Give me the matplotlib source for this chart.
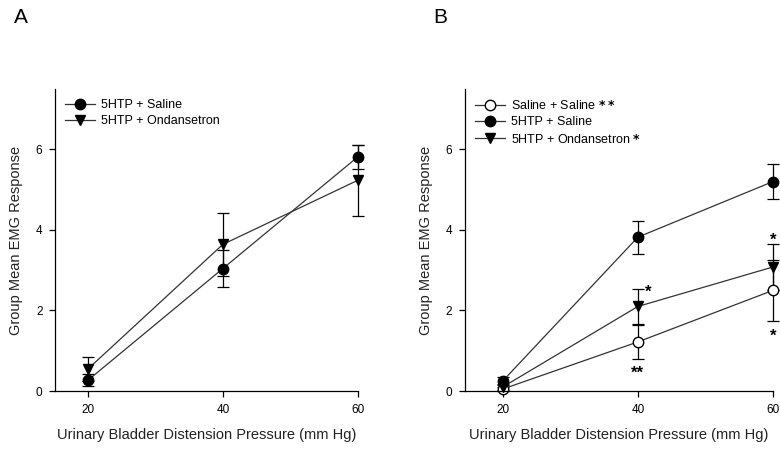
import matplotlib
matplotlib.use("Agg")
import matplotlib.pyplot as plt
from matplotlib.lines import Line2D

plt.rcParams['font.family'] = ['Liberation Sans', 'DejaVu Sans']

pressure = [20, 40, 60]

# Panel A
a_sal_mean = [0.27, 3.04, 5.81]
a_sal_err = [0.15, 0.45, 0.31]
a_ond_mean = [0.55, 3.64, 5.23]
a_ond_err = [0.30, 0.78, 0.88]

# Panel B
b_salsal_mean = [0.05, 1.22, 2.50]
b_salsal_err = [0.05, 0.42, 0.76]
b_sal_mean = [0.25, 3.82, 5.20]
b_sal_err = [0.10, 0.41, 0.44]
b_ond_mean = [0.10, 2.10, 3.08]
b_ond_err = [0.08, 0.43, 0.56]

# significance marks: (x, y, text)
b_stars = [(41.6, 2.45, '*'), (40, 0.45, '**'), (60, 3.75, '*'), (60, 1.35, '*')]

fig = plt.figure(figsize=(7.8, 4.49), dpi=100)
axA = fig.add_axes([0.0705, 0.129, 0.388, 0.673])
axB = fig.add_axes([0.596, 0.129, 0.395, 0.673])

line_kw = dict(color='#333333', lw=0.9, ecolor='black', elinewidth=0.9,
               capsize=4, capthick=0.9, markersize=7.5)


def plot_series(ax, mean, err, marker, face, label):
    eb = ax.errorbar(pressure, mean, yerr=err, fmt='-' + marker, mfc=face,
                     mec='black', **line_kw)
    for artist in eb.lines[0:1] + eb.lines[1] + eb.lines[2]:
        artist.set_clip_on(False)
    return Line2D([], [], color='#333333', lw=0.9, marker=marker, mfc=face,
                  mec='black', markersize=7.5, label=label)


def style(ax, xmin):
    ax.set_xlim(xmin, 60)
    ax.set_ylim(0, 7.5)
    ax.set_xticks([20, 40, 60])
    ax.set_yticks([0, 2, 4, 6])
    ax.spines['top'].set_visible(False)
    ax.spines['right'].set_visible(False)
    ax.spines['left'].set_linewidth(0.9)
    ax.spines['bottom'].set_linewidth(0.9)
    ax.tick_params(direction='out', length=4, width=0.9, labelsize=8.5, pad=5)
    ax.set_xlabel('Urinary Bladder Distension Pressure (mm Hg)', fontsize=10.5, labelpad=9, color='#222222')
    ax.set_ylabel('Group Mean EMG Response', fontsize=10.5, labelpad=9, color='#222222')


hA = [plot_series(axA, a_sal_mean, a_sal_err, 'o', 'black', '5HTP + Saline'),
      plot_series(axA, a_ond_mean, a_ond_err, 'v', 'black', '5HTP + Ondansetron')]
style(axA, 15.1)
axA.legend(handles=hA, loc='upper left', frameon=False, fontsize=9, handlelength=2.4,
           handletextpad=0.5, borderaxespad=0.4, labelspacing=0.35)

hB = [plot_series(axB, b_salsal_mean, b_salsal_err, 'o', 'white', 'Saline + Saline $\\mathbf{**}$'),
      plot_series(axB, b_sal_mean, b_sal_err, 'o', 'black', '5HTP + Saline'),
      plot_series(axB, b_ond_mean, b_ond_err, 'v', 'black', '5HTP + Ondansetron $\\mathbf{*}$')]
style(axB, 14.4)
axB.legend(handles=hB, loc='upper left', frameon=False, fontsize=9, handlelength=2.4,
           handletextpad=0.5, borderaxespad=0.4, labelspacing=0.35)

for x, y, s in b_stars:
    axB.text(x, y, s, ha='center', va='center', fontsize=12, fontweight='bold', clip_on=False)

fig.text(0.018, 0.96, 'A', fontsize=15, va='center')
fig.text(0.555, 0.96, 'B', fontsize=15, va='center')

fig.savefig('out.png', dpi=100)
